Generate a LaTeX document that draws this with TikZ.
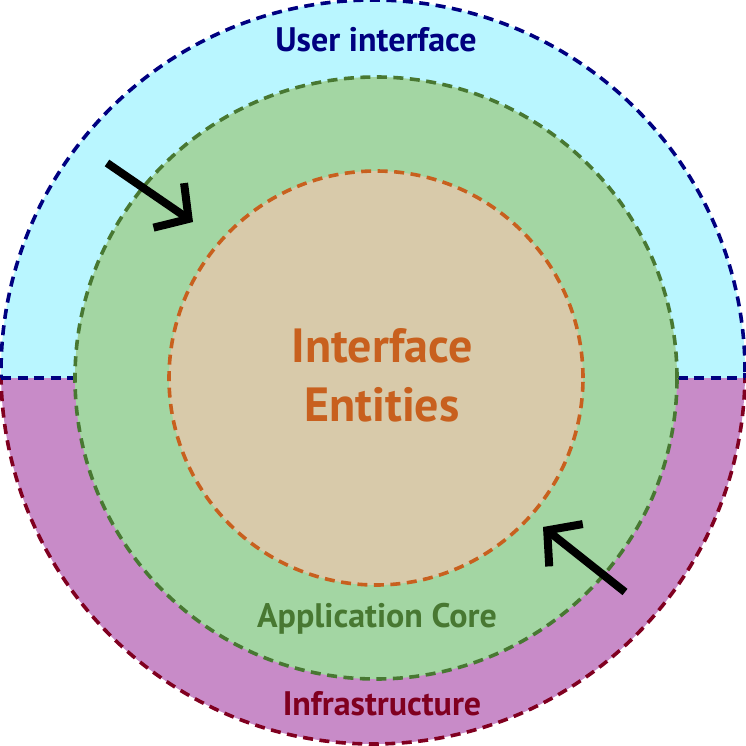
\documentclass[tikz,border=0pt]{standalone}
\usepackage{fontspec}
\setmainfont{PT Sans}
\usetikzlibrary{arrows.meta}
\definecolor{uicyan}{RGB}{185,246,255}
\definecolor{uiblue}{RGB}{0,0,128}
\definecolor{infmag}{RGB}{200,139,200}
\definecolor{infred}{RGB}{128,0,32}
\definecolor{appgreen}{RGB}{163,214,163}
\definecolor{appdark}{RGB}{72,120,50}
\definecolor{entbeige}{RGB}{216,202,170}
\definecolor{entorange}{RGB}{200,96,30}
\tikzset{
	ring/.style={line width=3.6pt, dash pattern=on 10pt off 6.5pt},
	ringtext/.style={font=\bfseries\fontsize{34}{40}\selectfont, anchor=base, inner sep=0pt},
	flow/.style={line width=8pt, line join=miter, -{Straight Barb[length=24pt,width=54pt]}}
}
\begin{document}
\begin{tikzpicture}[x=1pt,y=-1pt]
	\useasboundingbox (0,0) rectangle (746,746);

	% outer ring, upper and lower halves
	\begin{scope}
	\clip (-10,-10) rectangle (756,378);
	\fill[uicyan] (373,372) circle (372pt);
	\draw[ring,uiblue] (373,372) circle (372pt);
	\end{scope}
	\begin{scope}
	\clip (-10,378) rectangle (756,756);
	\fill[infmag] (373,372) circle (372pt);
	\draw[ring,infred] (373,372) circle (372pt);
	\end{scope}
	\draw[ring,uiblue] (1,378) -- (745,378);

	% application core and entities
	\draw[ring,appdark,fill=appgreen] (376,378) circle (301pt);
	\draw[ring,entorange,fill=entbeige] (376,378) circle (207pt);

	\node[ringtext,uiblue] (ui) at (376,52) {User interface};
	\node[ringtext,appdark] (app) at (377,627) {Application Core};
	\node[ringtext,infred] (infra) at (382,715) {Infrastructure};
	\node[entorange,font=\bfseries\fontsize{48}{59}\selectfont,align=center,inner sep=0pt] (ent) at (382,375) {Interface\\Entities};

	% dependency arrows
	\coordinate (inA) at (107,163);
	\coordinate (inB) at (193,222);
	\coordinate (outA) at (625,592);
	\coordinate (outB) at (543,527);
	\draw[flow] (inA) -- (inB);
	\draw[flow] (outA) -- (outB);
\end{tikzpicture}
\end{document}
